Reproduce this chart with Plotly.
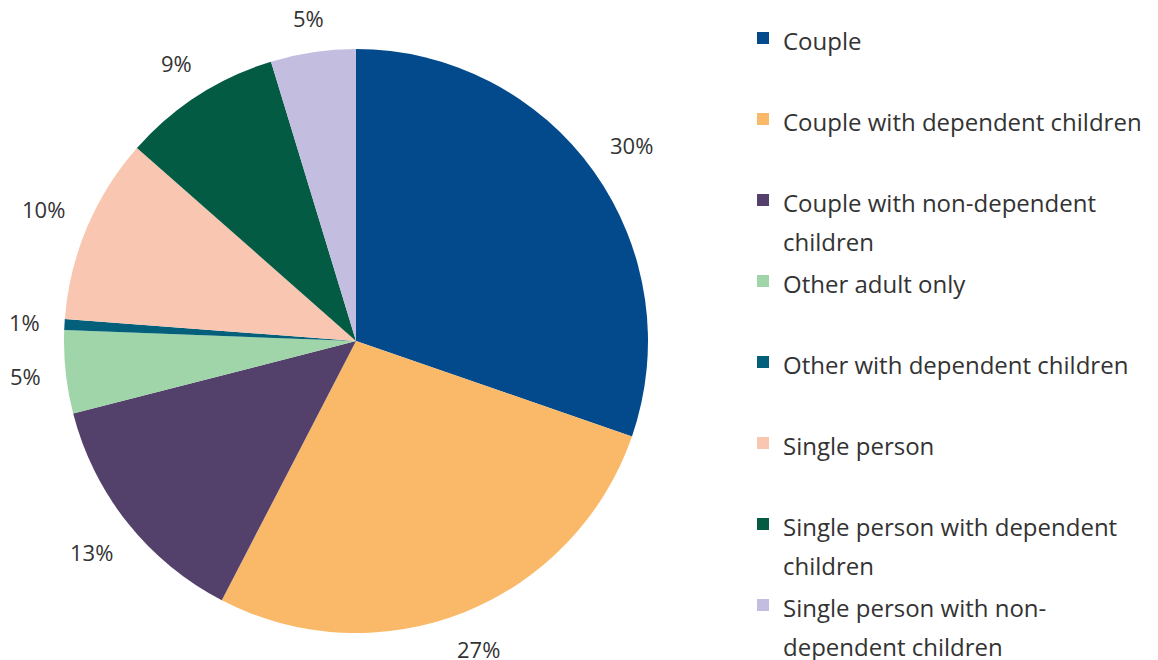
import math
import plotly.graph_objects as go

categories = [
    "Couple",
    "Couple with dependent children",
    "Couple with non-dependent children",
    "Other adult only",
    "Other with dependent children",
    "Single person",
    "Single person with dependent children",
    "Single person with non-dependent children",
]
legend_lines = [
    ["Couple"],
    ["Couple with dependent children"],
    ["Couple with non-dependent", "children"],
    ["Other adult only"],
    ["Other with dependent children"],
    ["Single person"],
    ["Single person with dependent", "children"],
    ["Single person with non-", "dependent children"],
]
values = [30.3, 27.3, 13.4, 4.6, 0.6, 10.3, 8.8, 4.7]
colors = ["#034a8c", "#fab968", "#53416b", "#9fd5a8", "#04607a", "#f9c7b1", "#035b44", "#c3bde0"]

# page is rendered with an 8px body margin; figure coords = page coords - 8
W, H = 1158, 690
OFF = 8
pie_cx, pie_cy, pie_r = 356 - OFF, 341 - OFF, 292
dom_x = [(pie_cx - pie_r) / W, (pie_cx + pie_r) / W]
dom_y = [1 - (pie_cy + pie_r) / H, 1 - (pie_cy - pie_r) / H]

LEG_FS = 30      # legend base size -> sets the slot height (2 lines x 1.3 x 30 + 3 = 81px)
TXT_FS = 24      # visible legend text size
LAB_FS = 22      # percentage label size


def legend_label(lines):
    lines = lines + ["\u00a0"] * (2 - len(lines))
    return "<br>".join(f'<span style="font-size:{TXT_FS}px">{ln}</span>' for ln in lines)


fig = go.Figure(go.Pie(
    labels=[legend_label(l) for l in legend_lines],
    values=values,
    sort=False,
    direction="clockwise",
    rotation=0,
    textinfo="none",
    marker=dict(colors=colors, line=dict(width=0)),
    domain=dict(x=dom_x, y=dom_y),
    hovertext=categories,
    hoverinfo="text+percent",
))

# percentage labels placed just outside the pie (box-aware offset), derived from the values
cx_px = (dom_x[0] + dom_x[1]) / 2 * W
cy_px = (1 - (dom_y[0] + dom_y[1]) / 2) * H
R = min((dom_x[1] - dom_x[0]) * W, (dom_y[1] - dom_y[0]) * H) / 2
GAP = 24
total = sum(values)
cum = 0.0
for v in values:
    mid = (cum + v / 2) / total * 2 * math.pi
    cum += v
    txt = f"{round(v / total * 100)}%"
    tw = sum((0.846 if ch == "%" else 0.572) * LAB_FS for ch in txt)
    th = 0.72 * LAB_FS
    ux, uy = math.sin(mid), -math.cos(mid)
    r_lab = R + GAP + abs(ux) * tw / 2 + abs(uy) * th / 2
    px = cx_px + r_lab * ux
    py = cy_px + r_lab * uy
    fig.add_annotation(
        x=px / W, y=1 - py / H, xref="paper", yref="paper",
        text=txt, showarrow=False,
        xanchor="center", yanchor="middle",
        font=dict(size=LAB_FS, color="#333333", family="Open Sans"),
    )

fig.update_layout(
    width=W, height=H,
    margin=dict(l=0, r=0, t=0, b=0),
    paper_bgcolor="white",
    plot_bgcolor="white",
    font=dict(family="Open Sans", size=20, color="#333333"),
    showlegend=True,
    legend=dict(
        x=735 / W, xanchor="left",
        y=1 - 4 / H, yanchor="top",
        valign="top",
        font=dict(size=LEG_FS, color="#333333", family="Open Sans"),
        bgcolor="rgba(0,0,0,0)",
        traceorder="normal",
    ),
)

fig.write_html("out.html")
